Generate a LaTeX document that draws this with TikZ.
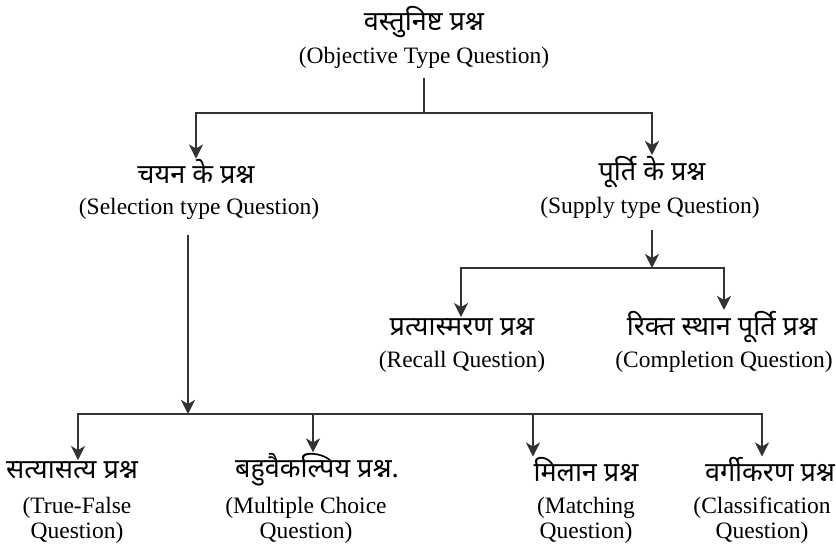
\documentclass[tikz,border=0pt]{standalone}
\usepackage{fontspec}
\setmainfont{Liberation Serif}
\newfontfamily\hindi[Script=Devanagari]{Noto Sans}
\usetikzlibrary{arrows.meta}

\tikzset{
	hi/.style={font=\hindi\fontsize{27}{30}\selectfont, inner sep=1pt},
	en/.style={font=\fontsize{23.5}{25}\selectfont, inner sep=1pt, align=center},
	ln/.style={line width=2.6pt, draw=black!80},
	ar/.style={ln, -{Stealth[length=14pt, width=14pt, inset=4pt]}},
}

\begin{document}
\begin{tikzpicture}[x=1pt, y=-1pt]
	\useasboundingbox[fill=white] (0,0) rectangle (836,555);
	
	% top
	\node[hi] (objH) at (424,22)  {वस्तुनिष्ट प्रश्न};
	\node[en] (objE) at (424,58)  {(Objective Type Question)};
	
	% second level
	\node[hi] (selH) at (196,172) {चयन के प्रश्न};
	\node[en] (selE) at (199,209) {(Selection type Question)};
	\node[hi] (supH) at (652,172) {पूर्ति के प्रश्न};
	\node[en] (supE) at (650,208) {(Supply type Question)};
	
	% supply type
	\node[hi] (recH) at (462,327) {प्रत्यास्मरण प्रश्न};
	\node[en] (recE) at (462,362) {(Recall Question)};
	\node[hi] (comH) at (722,327) {रिक्त स्थान पूर्ति प्रश्न};
	\node[en] (comE) at (724,362) {(Completion Question)};
	
	% selection type
	\node[hi] (tfH)  at (72,470)  {सत्यासत्य प्रश्न};
	\node[en] (tfE)  at (77,520)  {(True-False\\Question)};
	\node[hi] (mcH)  at (317,470) {बहुवैकल्पिय प्रश्न.};
	\node[en] (mcE)  at (306,520) {(Multiple Choice\\Question)};
	\node[hi] (maH)  at (586,470) {मिलान प्रश्न};
	\node[en] (maE)  at (586,520) {(Matching\\Question)};
	\node[hi] (clH)  at (770,470) {वर्गीकरण प्रश्न};
	\node[en] (clE)  at (762,520) {(Classification\\Question)};
	
	\coordinate (j1) at (424,113);
	\coordinate (j2) at (652,268);
	\coordinate (j3) at (188,414);
	
	\draw[ln, shorten <=8pt] (objE) -- (j1);
	\draw[ar] (j1) -| (selH);
	\draw[ar] (j1) -| (supH);
	
	\draw[ar, shorten <=10pt] (supE.south -| j2) -- (j2);
	\draw[ar] (j2) -| (recH.north -| 461,0);
	\draw[ar] (j2) -| (comH.north -| 724,0);
	
	\draw[ar, shorten <=14pt] (selE.south -| j3) -- (j3);
	\draw[ar] (j3) -| (tfH.north -| 78,0);
	\draw[ar] (j3) -| (mcH.north -| 313,0);
	\draw[ar] (j3) -| (maH.north -| 533,0);
	\draw[ar] (j3) -| (clH.north -| 762,0);
	
\end{tikzpicture}
\end{document}
